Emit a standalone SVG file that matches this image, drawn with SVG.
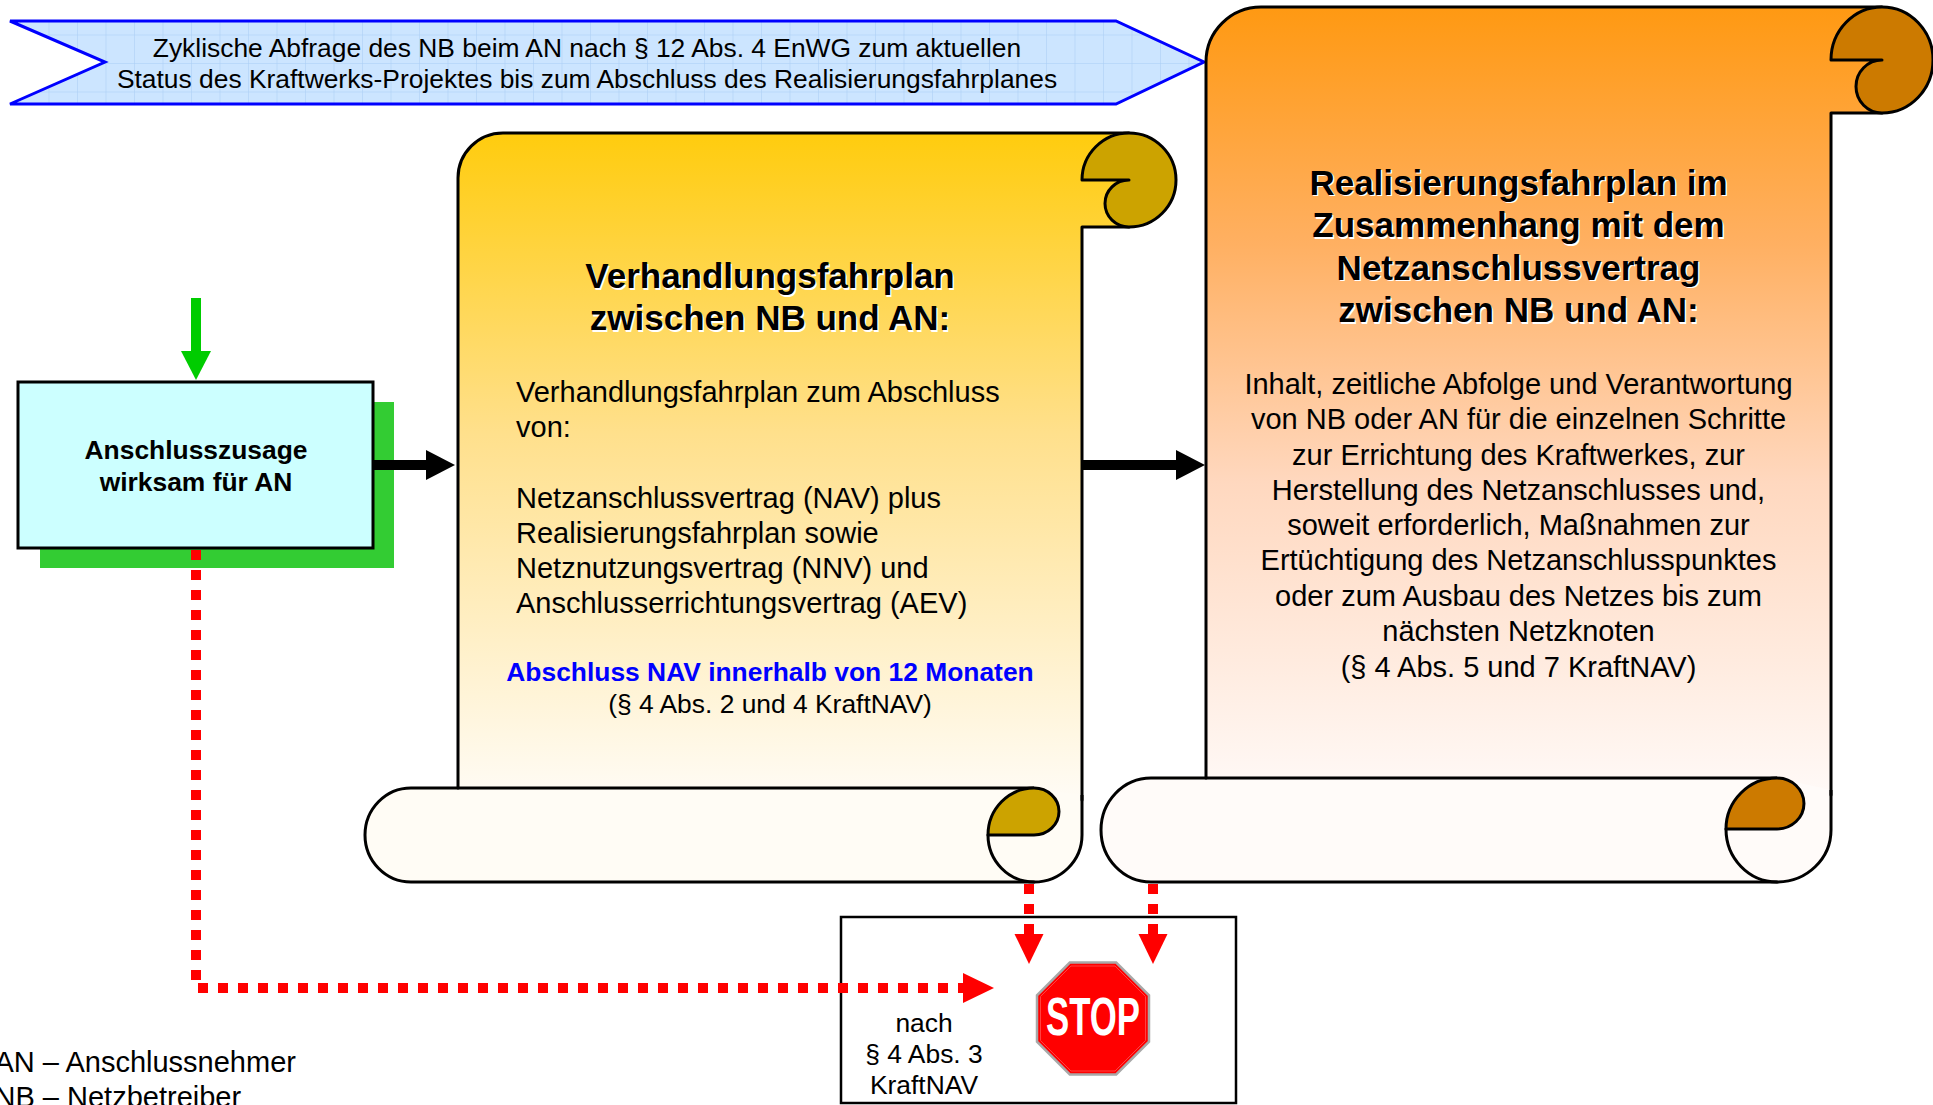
<svg xmlns="http://www.w3.org/2000/svg" width="1933" height="1105" viewBox="0 0 1933 1105">
<defs>
<style>
text{font-family:"Liberation Sans",Arial,Helvetica,sans-serif;fill:#000}
.t26{font-size:26.4px}
.t29{font-size:29px}
.title{font-size:35px;font-weight:bold}
.shadow{fill:#fff}
.bold{font-weight:bold}
.mid{text-anchor:middle}
.ln{fill:none;stroke:#000;stroke-width:3;stroke-linejoin:round;stroke-linecap:round}
.red{fill:none;stroke:#ff0000;stroke-width:10;stroke-dasharray:10 10}
</style>
<pattern id="grid" x="20" y="6" width="28.5" height="28.5" patternUnits="userSpaceOnUse">
<rect width="28.5" height="28.5" fill="#cce5ff"/>
<path d="M0,0 V28.5 M0,0 H28.5" fill="none" stroke="#a9cdf5" stroke-width="1"/>
</pattern>
<linearGradient id="gy" x1="0" y1="133" x2="0" y2="800" gradientUnits="userSpaceOnUse">
<stop offset="0" stop-color="#ffcc0e"/>
<stop offset="0.45" stop-color="#ffe08c"/>
<stop offset="1" stop-color="#fffcf6"/>
</linearGradient>
<linearGradient id="go" x1="0" y1="7" x2="0" y2="800" gradientUnits="userSpaceOnUse">
<stop offset="0" stop-color="#ff9912"/>
<stop offset="0.3" stop-color="#ffb062"/>
<stop offset="0.6" stop-color="#ffd8bf"/>
<stop offset="1" stop-color="#fffaf8"/>
</linearGradient>
</defs>
<rect width="1933" height="1105" fill="#fff"/>

<g id="banner">
<path d="M10,21 H1116 L1204,62 L1116,104 H10 L105,62 Z" fill="url(#grid)" stroke="#0000ff" stroke-width="3" stroke-linejoin="miter"/>
<text class="t26 mid" x="587" y="57">Zyklische Abfrage des NB beim AN nach § 12 Abs. 4 EnWG zum aktuellen</text>
<text class="t26 mid" x="587" y="88">Status des Kraftwerks-Projektes bis zum Abschluss des Realisierungsfahrplanes</text>
</g>

<g id="scroll-realisierung">
<path d="M1206,800 V62 A55,55 0 0 1 1261,7 H1882 V113 H1831 V800 Z" fill="url(#go)"/>
<path d="M1831,790 V830 A54,52 0 0 1 1777,882 H1151 A50,52 0 0 1 1101,830 A50,52 0 0 1 1151,778 H1777" fill="#fffbf9" stroke="#000" stroke-width="3" stroke-linejoin="round"/>
<path class="ln" d="M1206,778 V62 A55,55 0 0 1 1261,7 H1882 M1882,113 H1831 V795"/>
<path d="M1882,7 A51,53 0 0 0 1831,60 H1882 A26,26.5 0 0 0 1882,113 A51,53 0 0 0 1933,60 A51,53 0 0 0 1882,7 Z" fill="#cc7a00" stroke="#000" stroke-width="3" stroke-linejoin="round"/>
<path d="M1726,829 A51,51 0 0 1 1777,778 A27,25.5 0 0 1 1777,829 Z" fill="#cc7a00" stroke="#000" stroke-width="3" stroke-linejoin="round"/>
<path class="ln" d="M1726,829 A51,53 0 0 0 1777,882"/>
<text class="title mid shadow" x="1520" y="196">Realisierungsfahrplan im</text>
<text class="title mid shadow" x="1520" y="238.5">Zusammenhang mit dem</text>
<text class="title mid shadow" x="1520" y="281">Netzanschlussvertrag</text>
<text class="title mid shadow" x="1520" y="323.5">zwischen NB und AN:</text>
<text class="title mid" x="1518.5" y="194.5">Realisierungsfahrplan im</text>
<text class="title mid" x="1518.5" y="237">Zusammenhang mit dem</text>
<text class="title mid" x="1518.5" y="279.5">Netzanschlussvertrag</text>
<text class="title mid" x="1518.5" y="322">zwischen NB und AN:</text>
<text class="t29 mid" x="1518.5" y="394">Inhalt, zeitliche Abfolge und Verantwortung</text>
<text class="t29 mid" x="1518.5" y="429">von NB oder AN für die einzelnen Schritte</text>
<text class="t29 mid" x="1518.5" y="465">zur Errichtung des Kraftwerkes, zur</text>
<text class="t29 mid" x="1518.5" y="500">Herstellung des Netzanschlusses und,</text>
<text class="t29 mid" x="1518.5" y="535">soweit erforderlich, Maßnahmen zur</text>
<text class="t29 mid" x="1518.5" y="570">Ertüchtigung des Netzanschlusspunktes</text>
<text class="t29 mid" x="1518.5" y="606">oder zum Ausbau des Netzes bis zum</text>
<text class="t29 mid" x="1518.5" y="641">nächsten Netzknoten</text>
<text class="t29 mid" x="1518.5" y="677">(§ 4 Abs. 5 und 7 KraftNAV)</text>
</g>

<g id="scroll-verhandlung">
<path d="M458,800 V178 A45,45 0 0 1 503,133 H1129 V227 H1082 V800 Z" fill="url(#gy)"/>
<path d="M1082,795 V835 A48,47 0 0 1 1034,882 H411 A46,47 0 0 1 365,835 A46,47 0 0 1 411,788 H1034" fill="#fffcf5" stroke="#000" stroke-width="3" stroke-linejoin="round"/>
<path class="ln" d="M458,788 V178 A45,45 0 0 1 503,133 H1129 M1129,227 H1082 V800"/>
<path d="M1129,133 A47,47 0 0 0 1082,180 H1129 A24,23.5 0 0 0 1129,227 A47,47 0 0 0 1176,180 A47,47 0 0 0 1129,133 Z" fill="#cca300" stroke="#000" stroke-width="3" stroke-linejoin="round"/>
<path d="M988,835 A46,47 0 0 1 1034,788 A25,23.5 0 0 1 1034,835 Z" fill="#cca300" stroke="#000" stroke-width="3" stroke-linejoin="round"/>
<path class="ln" d="M988,835 A46,47 0 0 0 1034,882"/>
<text class="title mid shadow" x="771.5" y="289.5">Verhandlungsfahrplan</text>
<text class="title mid shadow" x="771.5" y="331.5">zwischen NB und AN:</text>
<text class="title mid" x="770" y="288">Verhandlungsfahrplan</text>
<text class="title mid" x="770" y="330">zwischen NB und AN:</text>
<text class="t29" x="516" y="402">Verhandlungsfahrplan zum Abschluss</text>
<text class="t29" x="516" y="437">von:</text>
<text class="t29" x="516" y="508">Netzanschlussvertrag (NAV) plus</text>
<text class="t29" x="516" y="543">Realisierungsfahrplan sowie</text>
<text class="t29" x="516" y="578">Netznutzungsvertrag (NNV) und</text>
<text class="t29" x="516" y="613">Anschlusserrichtungsvertrag (AEV)</text>
<text class="t26 bold mid" x="770" y="681" style="fill:#0000ff">Abschluss NAV innerhalb von 12 Monaten</text>
<text class="t26 mid" x="770" y="713">(§ 4 Abs. 2 und 4 KraftNAV)</text>
</g>

<g id="anschlusszusage">
<rect x="40" y="402" width="354" height="166" fill="#33cc33"/>
<rect x="18" y="382" width="355" height="166" fill="#ccffff" stroke="#000" stroke-width="3"/>
<text class="t26 bold mid" x="196" y="459">Anschlusszusage</text>
<text class="t26 bold mid" x="196" y="491">wirksam für AN</text>
</g>

<g id="stop">
<rect x="841" y="917" width="395" height="186" fill="#fff" stroke="#000" stroke-width="2.5"/>
<text class="t26 mid" x="924" y="1032">nach</text>
<text class="t26 mid" x="924" y="1063">§ 4 Abs. 3</text>
<text class="t26 mid" x="924" y="1094">KraftNAV</text>
<polygon points="1069.8,962.5 1116.2,962.5 1149,995.3 1149,1041.7 1116.2,1074.5 1069.8,1074.5 1037,1041.7 1037,995.3" fill="#ff0000" stroke="#a8a8a8" stroke-width="2.5"/>
<polygon points="1071,966 1115,966 1145.5,996.5 1145.5,1040.5 1115,1071 1071,1071 1040.5,1040.5 1040.5,996.5" fill="none" stroke="#ff4040" stroke-width="1"/>
<text x="1093" y="1035" class="bold mid" style="font-size:53px;fill:#fff" textLength="94" lengthAdjust="spacingAndGlyphs">STOP</text>
</g>

<g id="legend">
<text class="t29" x="-5.5" y="1072">AN – Anschlussnehmer</text>
<text class="t29" x="-5.5" y="1107">NB – Netzbetreiber</text>
</g>

<g id="connectors">
<path d="M196,298 V352" stroke="#00cc00" stroke-width="10" fill="none"/>
<polygon points="181,351 211,351 196,380" fill="#00cc00"/>
<path d="M373,465 H428" stroke="#000" stroke-width="10" fill="none"/>
<polygon points="426,450 455,465 426,480" fill="#000"/>
<path d="M1083,465 H1178" stroke="#000" stroke-width="10" fill="none"/>
<polygon points="1176,450 1205,465 1176,480" fill="#000"/>
<path class="red" d="M196,550 V988 H963"/>
<polygon points="963,973 994,988 963,1003" fill="#ff0000"/>
<path class="red" d="M1029,884 V934"/>
<polygon points="1014.5,934 1043.5,934 1029,964" fill="#ff0000"/>
<path class="red" d="M1153,884 V934"/>
<polygon points="1138.5,934 1167.5,934 1153,964" fill="#ff0000"/>
</g>
</svg>
